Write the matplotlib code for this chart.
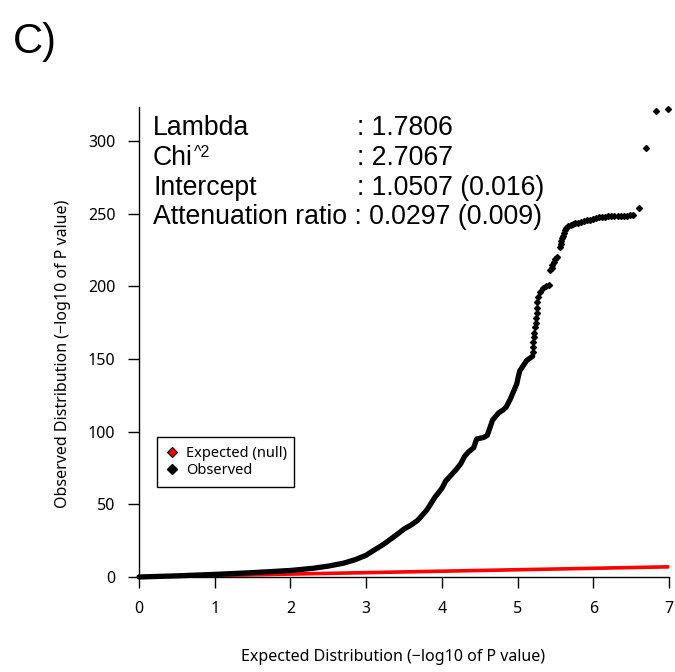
import matplotlib
matplotlib.use('Agg')
import matplotlib.pyplot as plt
from matplotlib.lines import Line2D

# values
null_x = [0, 7]
null_y = [0, 7]

# dense part of the observed curve
obs_x = [0, 0.5, 1.0, 1.5, 2.0, 2.3, 2.5, 2.7, 2.86, 3.0, 3.09, 3.2, 3.27, 3.4, 3.5,
         3.6, 3.68, 3.8, 3.91, 4.0, 4.05, 4.12, 4.19, 4.25, 4.30, 4.35, 4.42, 4.46,
         4.55, 4.60, 4.63, 4.67, 4.75, 4.81, 4.85, 4.9, 4.99, 5.01, 5.03, 5.12, 5.20]
obs_y = [0, 0.8, 1.8, 3, 4.5, 6, 7.5, 9.5, 12, 15, 18, 21.5, 24, 29, 33,
         36, 39, 46, 55, 61, 66, 70, 74, 78, 83, 86, 89, 95,
         96, 97.5, 102, 108, 113, 115, 117, 122, 133, 138, 142, 149, 152]

# sparse tail (individual points)
tail_x = [5.20, 5.21, 5.21, 5.22, 5.22, 5.23, 5.24, 5.24, 5.25, 5.25, 5.26, 5.27, 5.30, 5.34, 5.38, 5.41,
          5.43, 5.45, 5.46, 5.48, 5.50, 5.52,
          5.56, 5.57, 5.58, 5.59, 5.60, 5.61, 5.62,
          5.64, 5.67, 5.70, 5.73, 5.76, 5.80, 5.84, 5.88, 5.92, 5.96, 6.00, 6.04, 6.08, 6.12,
          6.16, 6.20, 6.24, 6.28, 6.32, 6.36, 6.40, 6.44, 6.48, 6.52,
          6.60, 6.70, 6.83, 6.99]
tail_y = [155, 158, 162, 165, 168, 172, 175, 178, 182, 185, 189, 193, 196, 199, 200.5, 201,
          211, 213, 215, 217, 219, 220,
          227, 229, 231, 233, 235, 237, 239,
          240.5, 241.5, 242.5, 243, 243.5, 244, 244.5, 245, 245.5, 246, 246.5, 247, 247.5, 248,
          248, 248.2, 248.3, 248.4, 248.5, 248.6, 248.7, 248.8, 248.9, 249,
          254, 295, 321, 322]

stat_names = ['Lambda', 'Chi', 'Intercept', 'Attenuation ratio']
stat_values = ['1.7806', '2.7067', '1.0507 (0.016)', '0.0297 (0.009)']

plt.rcParams['font.family'] = ['Noto Sans', 'DejaVu Sans']

W, H = 675, 672
fig = plt.figure(figsize=(W / 100, H / 100), dpi=100)


def fx(px):
    return px / W


def fy(py):
    return 1 - py / H


ax = fig.add_axes([fx(139), fy(577), fx(669) - fx(139), fy(107) - fy(577)])

ax.plot(null_x, null_y, color='red', lw=2.6, solid_capstyle='butt', zorder=2)
ax.plot(obs_x, obs_y, color='black', lw=3.8, solid_capstyle='round',
        solid_joinstyle='round', zorder=3, clip_on=False)
ax.plot(tail_x, tail_y, 'D', color='black', ms=3, ls='none', zorder=3, clip_on=False)

ax.set_xlim(0, 7)
ax.set_ylim(0, 323.5)
ax.set_xticks(range(8))
ax.set_yticks(range(0, 301, 50))
for s in ['top', 'right']:
    ax.spines[s].set_visible(False)
for s in ['left', 'bottom']:
    ax.spines[s].set_linewidth(1.0)
ax.tick_params(direction='out', length=8, width=1, labelsize=11.5, pad=9)

fig.text(fx(393), fy(657), 'Expected Distribution (\u2212log10 of P value)',
         ha='center', va='center', fontsize=11.5)
fig.text(fx(63), fy(354), 'Observed Distribution (\u2212log10 of P value)',
         ha='center', va='center', rotation=90, fontsize=11.5)

fig.text(fx(13), fy(53), 'C)', fontsize=30, family='Liberation Sans', va='baseline')

# stats block
baselines = [135, 165, 195, 224]
for name, val, b in zip(stat_names, stat_values, baselines):
    if name == 'Attenuation ratio':
        fig.text(fx(153), fy(b), name + ' : ' + val, fontsize=19.2,
                 family='Liberation Sans', va='baseline')
        continue
    t = fig.text(fx(153), fy(b), name, fontsize=19.2, family='Liberation Sans', va='baseline')
    if name == 'Chi':
        fig.canvas.draw()
        ax.annotate('^2', xy=(1, 1), xycoords=t, xytext=(0.5, 0), textcoords='offset points',
                    ha='left', va='top', fontsize=11.5, family='Liberation Sans')
    fig.text(fx(357), fy(b), ': ' + val, fontsize=19.2, family='Liberation Sans', va='baseline')

handles = [Line2D([], [], marker='D', ls='none', mfc='red', mec='black', ms=5.5, mew=0.8),
           Line2D([], [], marker='D', ls='none', mfc='black', mec='black', ms=5.5)]
leg = fig.legend(handles, ['Expected (null)', 'Observed'], loc='upper left',
                 bbox_to_anchor=(fx(157), fy(492), fx(294) - fx(157), fy(437) - fy(492)),
                 mode='expand', fancybox=False, edgecolor='black', fontsize=10.5,
                 borderpad=0.6, handlelength=0.8, handletextpad=0.6, labelspacing=0.15,
                 borderaxespad=0, framealpha=1)
leg.get_frame().set_linewidth(1.0)

fig.savefig('out.png', dpi=100)
